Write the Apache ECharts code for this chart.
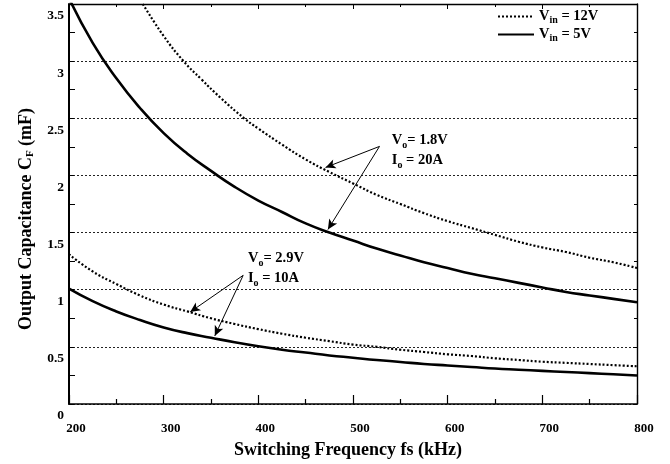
<!DOCTYPE html>
<html>
<head>
<meta charset="utf-8">
<script src="https://cdn.jsdelivr.net/npm/echarts@6/dist/echarts.min.js"></script>
<style>
html,body{margin:0;padding:0;background:#fff;}
#chart{width:670px;height:464px;}
</style>
</head>
<body>
<div id="chart"></div>
<script>
// ---- data (frequency kHz, capacitance mF) ----
const vin12_vo18 = [[278,3.5],[300,3.22],[321,3.0],[340,2.84],[360,2.68],[385,2.5],[400,2.41],[425,2.27],[450,2.14],[475,2.03],[500,1.93],[525,1.83],[550,1.75],[575,1.67],[600,1.6],[625,1.54],[650,1.48],[675,1.42],[700,1.37],[725,1.33],[750,1.28],[775,1.24],[800,1.19]];
const vin5_vo18 = [[200,3.55],[225,3.16],[250,2.85],[275,2.59],[300,2.37],[325,2.19],[350,2.04],[375,1.9],[400,1.78],[425,1.68],[450,1.58],[475,1.5],[500,1.43],[525,1.36],[550,1.3],[575,1.24],[600,1.19],[625,1.14],[650,1.1],[675,1.06],[700,1.02],[725,0.98],[750,0.95],[775,0.92],[800,0.89]];
const vin12_vo29 = [[200,1.31],[225,1.16],[250,1.05],[275,0.95],[300,0.87],[325,0.81],[350,0.75],[375,0.7],[400,0.655],[425,0.615],[450,0.58],[475,0.55],[500,0.52],[525,0.5],[550,0.475],[575,0.455],[600,0.435],[625,0.42],[650,0.4],[675,0.385],[700,0.37],[725,0.36],[750,0.35],[775,0.34],[800,0.33]];
const vin5_vo29 = [[200,1.01],[225,0.9],[250,0.81],[275,0.735],[300,0.67],[325,0.62],[350,0.58],[375,0.54],[400,0.505],[425,0.475],[450,0.45],[475,0.425],[500,0.405],[525,0.385],[550,0.368],[575,0.35],[600,0.337],[625,0.324],[650,0.31],[675,0.3],[700,0.29],[725,0.28],[750,0.27],[775,0.26],[800,0.25]];

const xTicks = [200, 300, 400, 500, 600, 700, 800];
const yTicks = [0, 0.5, 1, 1.5, 2, 2.5, 3, 3.5];
const legendNames = ['12V', '5V'];

// annotations (data coordinates)
const note18Pos = [541, 2.216];
const note29Pos = [389, 1.19];
const arrows18 = [[[528, 2.254], [471, 2.07]], [[528, 2.254], [473.5, 1.527]]];
const arrows29 = [[[384, 1.126], [328, 0.805]], [[384, 1.126], [354, 0.596]]];

const FONT = '"Liberation Serif", "Times New Roman", serif';
const chart = echarts.init(document.getElementById('chart'), null, {renderer: 'canvas'});

const noteRich = {
  v: {fontFamily: FONT, fontWeight: 'bold', fontSize: 14.5, color: '#000', lineHeight: 20},
  s: {fontFamily: FONT, fontWeight: 'bold', fontSize: 10, color: '#000', padding: [10, 0, 0, 0], lineHeight: 10}
};
const legendRich = {
  v: {fontFamily: FONT, fontWeight: 'bold', fontSize: 14.5, color: '#000', lineHeight: 17},
  s: {fontFamily: FONT, fontWeight: 'bold', fontSize: 10, color: '#000', padding: [7, 0, 0, 0], lineHeight: 10}
};

const dotted = {type: [2, 2], width: 2.2, color: '#000'};
const solid = {type: 'solid', width: 2.6, color: '#000'};

const arrowData = arrows18.concat(arrows29).map(a => [{coord: a[0]}, {coord: a[1]}]);

chart.setOption({
  animation: false,
  backgroundColor: '#fff',
  grid: {left: 69, right: 33, top: 4, bottom: 59, containLabel: false},
  legend: {
    data: legendNames,
    orient: 'vertical',
    left: 492, top: 3,
    itemWidth: 36, itemHeight: 10, itemGap: 1, itemTextGap: 10,
    formatter: n => '{v|V}{s|in}{v| = ' + n + '}',
    textStyle: {rich: legendRich},
    itemStyle: {opacity: 0},
    selectedMode: false
  },
  xAxis: [{
    type: 'value', min: xTicks[0], max: xTicks[xTicks.length - 1], interval: 100,
    name: 'Switching Frequency fs (kHz)', nameLocation: 'middle', nameGap: 37,
    nameTextStyle: {fontFamily: FONT, fontWeight: 'bold', fontSize: 18, color: '#000', padding: [0, 10, 0, 0]},
    axisLine: {show: true, onZero: false, lineStyle: {color: '#000', width: 1.6}},
    axisTick: {show: true, inside: true, length: 9, lineStyle: {color: '#000', width: 1.2}},
    minorTick: {show: true, splitNumber: 2, length: 5, lineStyle: {color: '#000', width: 1.2}},
    axisLabel: {fontFamily: FONT, fontWeight: 'bold', fontSize: 13, color: '#000', margin: 18, padding: [0, 0, 0, 14]},
    splitLine: {show: false}
  }, {
    type: 'value', position: 'top', min: xTicks[0], max: xTicks[xTicks.length - 1], interval: 100,
    axisLine: {show: true, onZero: false, lineStyle: {color: '#000', width: 1.4}},
    axisTick: {show: true, inside: true, length: 5, lineStyle: {color: '#000'}},
    minorTick: {show: true, splitNumber: 2, length: 3, lineStyle: {color: '#000'}},
    axisLabel: {show: false}, splitLine: {show: false}
  }],
  yAxis: [{
    type: 'value', min: yTicks[0], max: yTicks[yTicks.length - 1], interval: 0.5,
    name: 'Output Capacitance C{s|F} (mF)', nameLocation: 'middle', nameGap: 33,
    nameTextStyle: {fontFamily: FONT, fontWeight: 'bold', fontSize: 18, color: '#000', padding: [0, 30, 0, 0],
      rich: {s: {fontFamily: FONT, fontWeight: 'bold', fontSize: 11, color: '#000', padding: [9, 0, 0, 0]}}},
    axisLine: {show: true, onZero: false, lineStyle: {color: '#000', width: 2}},
    axisTick: {show: true, inside: true, length: 5, lineStyle: {color: '#000'}},
    minorTick: {show: true, splitNumber: 2, length: 6, lineStyle: {color: '#000'}},
    axisLabel: {
      fontFamily: FONT, fontWeight: 'bold', fontSize: 13.5, color: '#000', margin: 5,
      verticalAlign: 'top', padding: [5, 0, 0, 0]
    },
    splitLine: {show: true, lineStyle: {color: '#222', width: 1, type: [2, 2]}}
  }, {
    type: 'value', position: 'right', min: yTicks[0], max: yTicks[yTicks.length - 1], interval: 0.5,
    axisLine: {show: true, onZero: false, lineStyle: {color: '#000', width: 1.4}},
    axisTick: {show: true, inside: true, length: 4, lineStyle: {color: '#000'}},
    minorTick: {show: true, splitNumber: 2, length: 3, lineStyle: {color: '#000'}},
    axisLabel: {show: false}, splitLine: {show: false}
  }],
  series: [
    {name: '12V', type: 'line', data: vin12_vo18, symbol: 'none', smooth: true, lineStyle: dotted, itemStyle: {color: '#000'}, clip: true},
    {name: '5V', type: 'line', data: vin5_vo18, symbol: 'none', smooth: true, lineStyle: solid, itemStyle: {color: '#000'}, clip: true},
    {name: '12V', type: 'line', data: vin12_vo29, symbol: 'none', smooth: true, lineStyle: dotted, itemStyle: {color: '#000'}, clip: true},
    {name: '5V', type: 'line', data: vin5_vo29, symbol: 'none', smooth: true, lineStyle: solid, itemStyle: {color: '#000'}, clip: true},
    {
      name: 'notes', type: 'line', data: [], symbol: 'none', silent: true,
      markLine: {
        silent: true, symbol: ['none', 'arrow'], symbolSize: [7, 10], animation: false,
        lineStyle: {color: '#000', width: 1, type: 'solid'},
        label: {show: false},
        data: arrowData
      },
      markPoint: {
        silent: true, symbol: 'circle', symbolSize: 0, animation: false,
        label: {
          show: true, position: 'right', distance: 0, align: 'left',
          rich: noteRich
        },
        data: [
          {coord: note18Pos, label: {formatter: '{v|V}{s|o}{v|= 1.8V}\n{v|I}{s|o}{v| = 20A}'}},
          {coord: note29Pos, label: {formatter: '{v|V}{s|o}{v|= 2.9V}\n{v|I}{s|o}{v| = 10A}'}}
        ]
      }
    }
  ]
});
</script>
</body>
</html>
